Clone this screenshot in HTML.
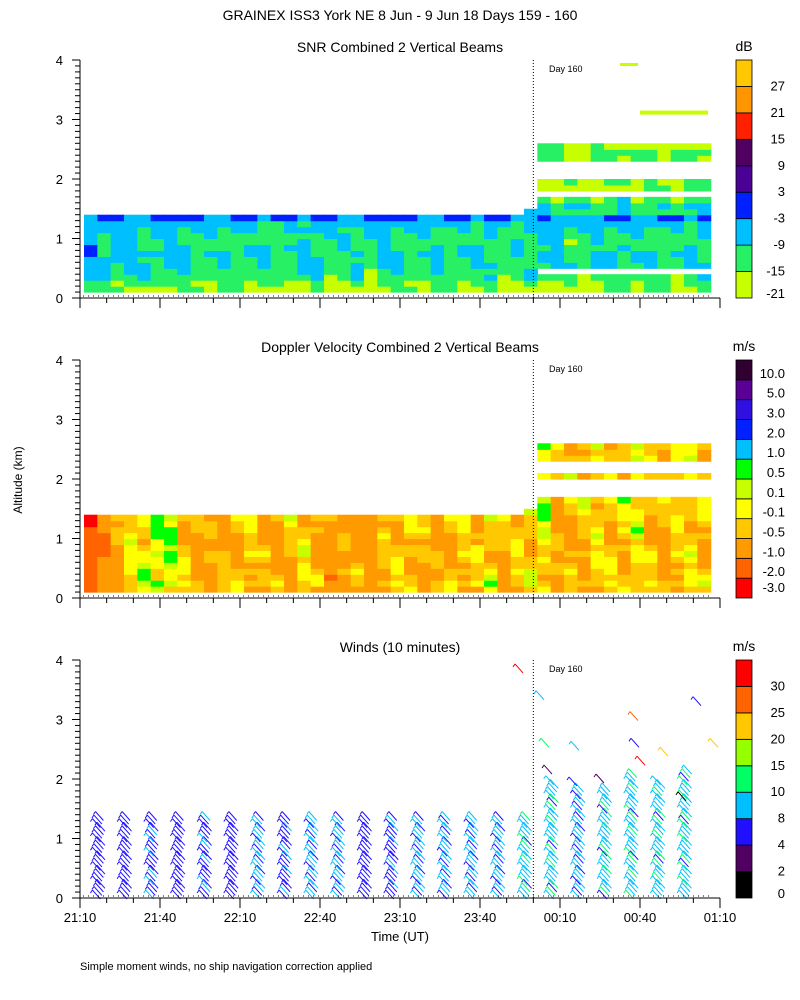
<!DOCTYPE html>
<html><head><meta charset="utf-8"><style>
body{margin:0;background:#fff;}
svg{display:block;font-family:"Liberation Sans",sans-serif;}
</style></head><body>
<svg id="c" width="800" height="1000" viewBox="0 0 800 1000" xmlns="http://www.w3.org/2000/svg">
<text x="400" y="20" text-anchor="middle" font-size="14">GRAINEX ISS3 York NE    8 Jun -  9 Jun 18 Days 159 - 160</text>
<text x="22" y="480" text-anchor="middle" font-size="12" transform="rotate(-90 22 480)">Altitude (km)</text>
<text x="400" y="941" text-anchor="middle" font-size="13">Time (UT)</text>
<text x="80" y="970" font-size="11">Simple moment winds, no ship navigation correction applied</text>
</svg>
<script>
// ---------- data ----------
const timeTickLabels=["21:10","21:40","22:10","22:40","23:10","23:40","00:10","00:40","01:10"];
const altTickLabels=["0","1","2","3","4"];
const snrLevels=[-21,-15,-9,-3,3,9,15,21,27];
const dopLevels=[-3.0,-2.0,-1.0,-0.5,-0.1,0.1,0.5,1.0,2.0,3.0,5.0,10.0];
const windLevels=[0,2,4,8,10,15,20,25,30];
// SNR base per 0.1 km row (index k = alt*10)
const snrRow=[null,-17,-15,-12,-11,-10,-10,-9,-10,-11,-10,-9,-7,-3,-11,-9,-14,-16,-17,-15,null,null,null,-15,-14,-16];
// SNR per 5-minute column anomaly
const snrCol=[3,2,2,1,0,1,0,1,-1,-2,0,1,-1,0,-2,-1,0,1,-1,-2,0,-1,1,0,-1,-2,1,0,-1,0,1,-2,-1,0,1,0,-1,-2,-1,0,1,-1,0,-1,-2,0,1,0];
const snrJit=[0,3,-2,1,-3,2,0,-1,4,-2,1,-4,2,0,-1,3];
// Doppler base per row (m/s)
const dopRow=[null,-0.7,-0.4,-0.6,-0.5,-0.7,-0.6,-0.5,-0.6,-0.7,-0.6,-0.5,-0.6,-0.4,-0.3,-0.4,-0.2,null,null,null,-0.3,null,null,-0.4,-0.5,-0.3];
const dopCol=[-2.0,-1.2,-0.5,0,0.3,0.6,0.4,-0.2,-0.4,-0.6,-0.5,-0.3,-0.2,-0.4,-0.6,-0.3,0,-0.4,-0.9,-0.7,-0.5,-0.8,-0.4,-0.3,-0.1,-0.4,-0.6,-0.3,-0.2,-0.3,0.1,-0.5,-0.2,0,0.2,-0.6,-0.4,-0.3,-0.1,-0.3,-0.2,0.1,-0.3,-0.5,-0.2,-0.1,-0.3,-0.2];
const dopJit=[0,0.4,-0.3,0.2,-0.5,0.3,0,-0.2,0.6,-0.3,0.1,-0.6,0.3,0,-0.1,0.4];
// winds: speed per 10-min column (m/s)
const windCol=[6,6,7,6,7,6,8,7,8,8,6,7,8,8,8,8,9,9,8,9,9,9,9,9];
const windJit=[0,-1,1,0,-1,0,1,-2,1,0,-1,0];
const windTopAfter=[2.0,1.9,1.9,2.1,2.0,2.2,1.7,2.0];
const extraBarbs=[[519,3.85,31],[540,3.4,9],[545,2.6,12],[548,2.15,3],[575,2.55,9],[573,1.95,5],[600,2.0,3],[634,3.05,26],[635,2.6,5],[641,2.3,30],[664,2.45,22],[697,3.3,5],[714,2.6,22],[682,1.7,1]];
// ---------- helpers ----------
const svg=document.getElementById('c');const NS="http://www.w3.org/2000/svg";
function mk(t,a,p){const e=document.createElementNS(NS,t);for(const k in a)e.setAttribute(k,a[k]);(p||svg).appendChild(e);return e;}
const X0=80,X1=720,T0=0,T1=240;
function xs(min){return X0+(min-T0)/(T1-T0)*(X1-X0);}
function ys(top,alt){return top+238-alt/4*238;}
const snrColors=["#c8ff00","#28f064","#00bfff","#0020ff","#4b0096","#500060","#ff2000","#ff9600","#ffc800"];
const dopColors=["#ff0000","#ff6400","#ff9a00","#ffc800","#ffff00","#c8ff00","#00ff00","#00bfff","#0020ff","#3010e0","#5a0096","#300030"];
const windColors=["#000000","#500060","#2010ff","#00bfff","#00ff64","#96ff00","#ffc800","#ff6400","#ff0000"];
function snrColor(v){let i=0;for(let j=1;j<snrLevels.length;j++)if(v>=snrLevels[j])i=j;return snrColors[i];}
function dopColor(v){let i=dopLevels.length-1;for(let j=dopLevels.length-1;j>=0;j--)if(v<=dopLevels[j])i=j;return dopColors[i];}
function windColor(v){let i=0;for(let j=0;j<windLevels.length;j++)if(v>=windLevels[j])i=j;return windColors[i];}
function panel(top,title,name){
  const g=mk('g',{});
  const t=mk('text',{x:400,y:top-8,'text-anchor':'middle','font-size':14},g);t.textContent=title;
  
  return g;
}
function axes(g,top,bottomLabels){
  mk('line',{x1:X0,y1:top,x2:X0,y2:top+238,stroke:'#000'},g);
  mk('line',{x1:X0,y1:top+238,x2:X1,y2:top+238,stroke:'#000'},g);
  for(let i=0;i<=40;i++){const y=ys(top,i/10);mk('line',{x1:X0-(i%10==0?8:5),y1:y,x2:X0,y2:y,stroke:'#000'},g);}
  altTickLabels.forEach((l,i)=>{const t=mk('text',{x:X0-17,y:ys(top,i)+5,'text-anchor':'end','font-size':13},g);t.textContent=l;
    });
  for(let m=0;m<=240;m+=10){const x=xs(m);mk('line',{x1:x,y1:top+238,x2:x,y2:top+238+(m%30==0?10:5),stroke:'#000'},g);}
  if(bottomLabels)timeTickLabels.forEach((l,i)=>{const t=mk('text',{x:xs(i*30),y:top+262,'text-anchor':'middle','font-size':13},g);t.textContent=l;
    });
  mk('line',{x1:xs(170),y1:top,x2:xs(170),y2:top+238,stroke:'#000','stroke-dasharray':'1,2'},g);
  mk('line',{x1:X0+3,y1:top+236,x2:X1-10,y2:top+236,stroke:'#000','stroke-dasharray':'1,4'},g);
  const d=mk('text',{x:549,y:top+12,'font-size':9},g);d.textContent='Day 160';
  
}
function colorbar(top,colors,labels,unit,name){
  const g=mk('g',{});
  const n=colors.length,h=238/n;
  for(let i=0;i<n;i++){const y=top+238-(i+1)*h;mk('rect',{x:736,y:y,width:16,height:h,fill:colors[i],stroke:'#000','stroke-width':0.8},g);}
  labels.forEach((l,i)=>{const y=top+238-i*h-(n>9?h*0.3:0)+(i==0?0:4);
    const t=mk('text',{x:785,y:Math.min(y,top+242),'text-anchor':'end','font-size':13},g);t.textContent=(l<0?'-':'')+Math.abs(l).toString()+(n>9?(Number.isInteger(l)?'.0':''):'');});
  const u=mk('text',{x:744,y:top-9,'text-anchor':'middle','font-size':14},g);u.textContent=unit;
  
}
function topAlt(c,k,after){
  const m=c*5;
  if(m<165) return k>=1&&k<=13;
  if(m<170) return k>=1&&k<=14;
  return after(k);
}
function field(g,top,rowArr,colArr,jit,colorFn,afterMask){
  for(let c=0;c<colArr.length;c++){const m=1.5+c*5;if(m>232)break;
    for(let k=1;k<rowArr.length;k++){
      if(rowArr[k]==null)continue;
      if(!topAlt(c,k,afterMask))continue;
      const v=rowArr[k]+colArr[c]+jit[(k*7+c*3)%jit.length];
      const x=xs(m),w=xs(m+5)-x+0.6,y=ys(top,(k+1)/10);
      const r=mk('rect',{x:x,y:y,width:w,height:238/40+0.6,fill:colorFn(v)},g);
      
    }}
}
// ---------- panel 1 SNR ----------
let g=panel(60,'SNR Combined 2 Vertical Beams','snr-panel');
field(g,60,snrRow,snrCol,snrJit,snrColor,k=>(k>=1&&k<=19&&k!=4&&k!=17)||(k>=23&&k<=25));
mk('rect',{x:640,y:ys(60,3.15),width:68,height:4,fill:'#c8ff00'},g);
mk('rect',{x:620,y:ys(60,3.95),width:18,height:3,fill:'#c8ff00'},g);
axes(g,60,false);
colorbar(60,snrColors,snrLevels,'dB','snr-colorbar');
// ---------- panel 2 Doppler ----------
g=panel(360,'Doppler Velocity Combined 2 Vertical Beams','doppler-panel');
field(g,360,dopRow,dopCol,dopJit,dopColor,k=>(k>=1&&k<=16)||k==20||(k>=23&&k<=25));
axes(g,360,false);
colorbar(360,dopColors,dopLevels,'m/s','doppler-colorbar');
// ---------- panel 3 winds ----------
g=panel(660,'Winds (10 minutes)','winds-panel');
function barb(x,y,spd){const col=windColor(spd);
  const b=mk('path',{d:`M${x-4},${y-5} L${x+4},${y+4} M${x-4},${y-5} l-2,3`,stroke:col,fill:'none','stroke-width':1},g);
  }
windCol.forEach((s,c)=>{const m=7+c*10;if(m>236)return;
  const after=m>170;const topA=after?windTopAfter[(c-17)%windTopAfter.length]:1.4;
  for(let i=0;;i++){const a=0.05+i*0.06;if(a>topA)break;
    const x=xs(m)+((i%4)-1.5)*1.5;
    barb(x,ys(660,a),s+windJit[(i+c)%windJit.length]);}
});
extraBarbs.forEach(b=>barb(b[0],ys(660,b[1]),b[2]));
axes(g,660,true);
colorbar(660,windColors,windLevels,'m/s','wind-colorbar');
</script>
</body></html>
